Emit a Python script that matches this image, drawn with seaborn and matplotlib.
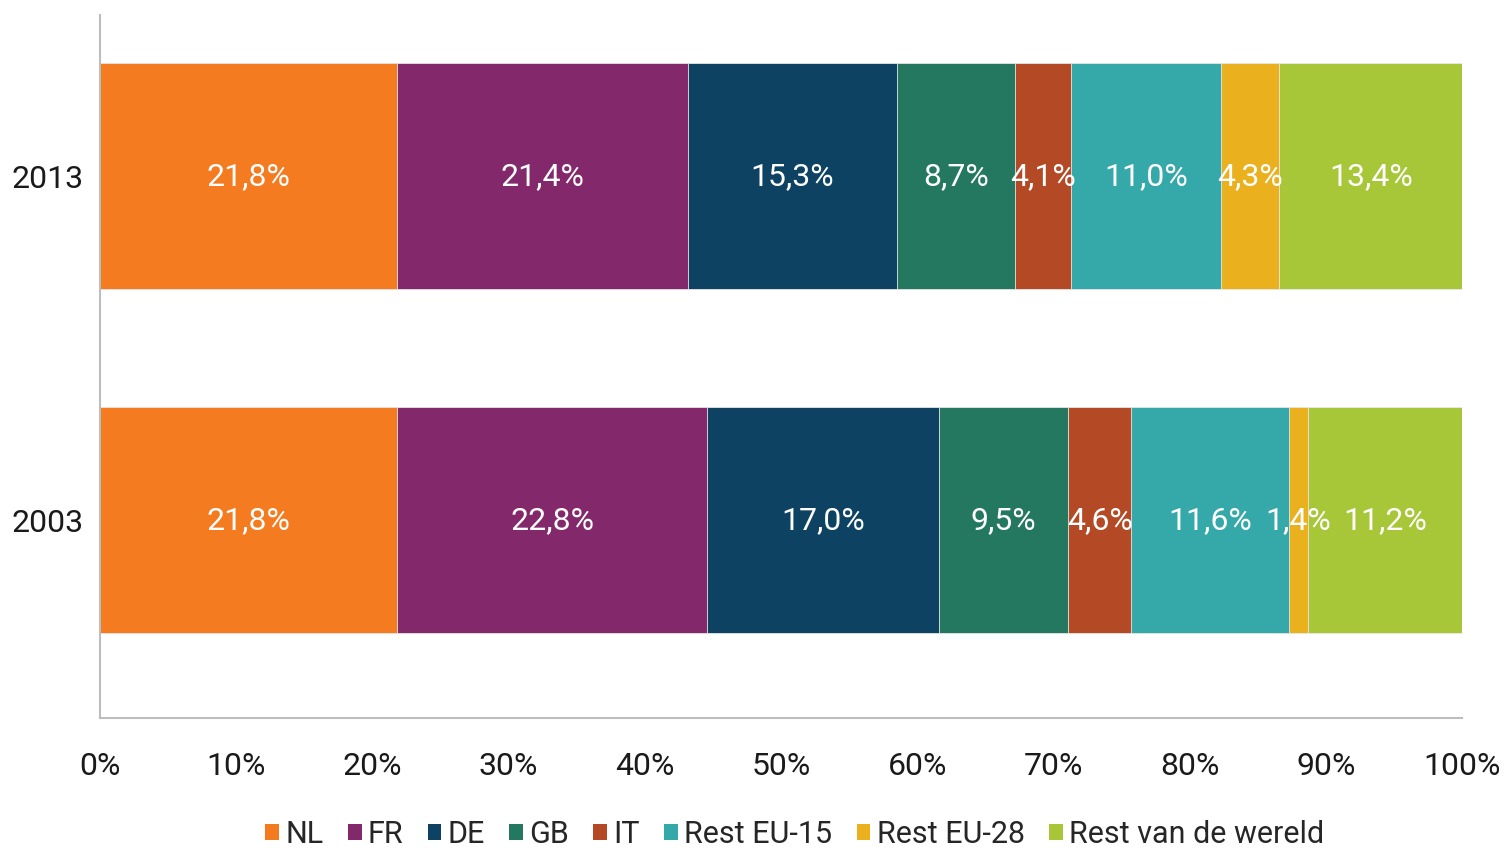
import matplotlib
matplotlib.use("Agg")
import matplotlib.pyplot as plt
from matplotlib.patches import Patch
import numpy as np
import pandas as pd
import seaborn as sns

years = ["2013", "2003"]
countries = ["NL", "FR", "DE", "GB", "IT", "Rest EU-15", "Rest EU-28", "Rest van de wereld"]
share_2013 = [21.8, 21.4, 15.3, 8.7, 4.1, 11.0, 4.3, 13.4]
share_2003 = [21.8, 22.8, 17.0, 9.5, 4.6, 11.6, 1.4, 11.2]
colors = ["#F47B20", "#83286B", "#0E4263", "#24785F", "#B34A25", "#35A9AA", "#EBB01E", "#A7C638"]

sns.set_theme(style="white")
plt.rcParams["font.family"] = ["Roboto", "DejaVu Sans"]

df = pd.DataFrame({"2013": share_2013, "2003": share_2003}, index=countries)
df = df.T.reset_index().rename(columns={"index": "year"})
long = df.melt(id_vars="year", var_name="country", value_name="share")
long["cum"] = long.groupby("year")["share"].cumsum()
# last segment fills to the end of the axis
long.loc[long["country"] == countries[-1], "cum"] = 100.0
long["mid"] = long["cum"] - long["share"] / 2

fig, ax = plt.subplots(figsize=(15.05, 8.5), dpi=100)
fig.subplots_adjust(left=0.0665, right=0.9714, top=0.982, bottom=0.155)

# draw cumulative bars from the right so earlier segments sit on top
for country, color in reversed(list(zip(countries, colors))):
    sub = long[long["country"] == country]
    sns.barplot(data=sub, x="cum", y="year", order=years, orient="h",
                color=color, width=0.657, saturation=1, linewidth=0.6,
                edgecolor="#e8e8e8", ax=ax)

y_pos = {y: i for i, y in enumerate(years)}
for _, row in long.iterrows():
    label = f"{row['share']:.1f}".replace(".", ",") + "%"
    ax.text(row["mid"], y_pos[row["year"]], label, ha="center", va="center",
            color="white", fontsize=23)

ax.set_xlim(0, 100)
ax.set_ylim(1.576, -0.468)
ax.set_xticks(np.arange(0, 101, 10))
ax.set_xticklabels([f"{t}%" for t in range(0, 101, 10)])
ax.set_xlabel("")
ax.set_ylabel("")
ax.tick_params(axis="x", length=0, pad=24, labelsize=23, colors="#1a1a1a")
ax.tick_params(axis="y", length=0, pad=12, labelsize=23, colors="#1a1a1a")
for side in ["top", "right"]:
    ax.spines[side].set_visible(False)
for side in ["left", "bottom"]:
    ax.spines[side].set_color("#BDBDBD")
    ax.spines[side].set_linewidth(1.5)

handles = [Patch(facecolor=c, edgecolor="none") for c in colors]
ax.legend(handles, countries, loc="center", bbox_to_anchor=(0.51, -0.165),
          ncol=len(countries), frameon=False, fontsize=22,
          handlelength=0.45, handleheight=0.45, handletextpad=0.2,
          columnspacing=0.8)

fig.savefig("out.png", dpi=100)
